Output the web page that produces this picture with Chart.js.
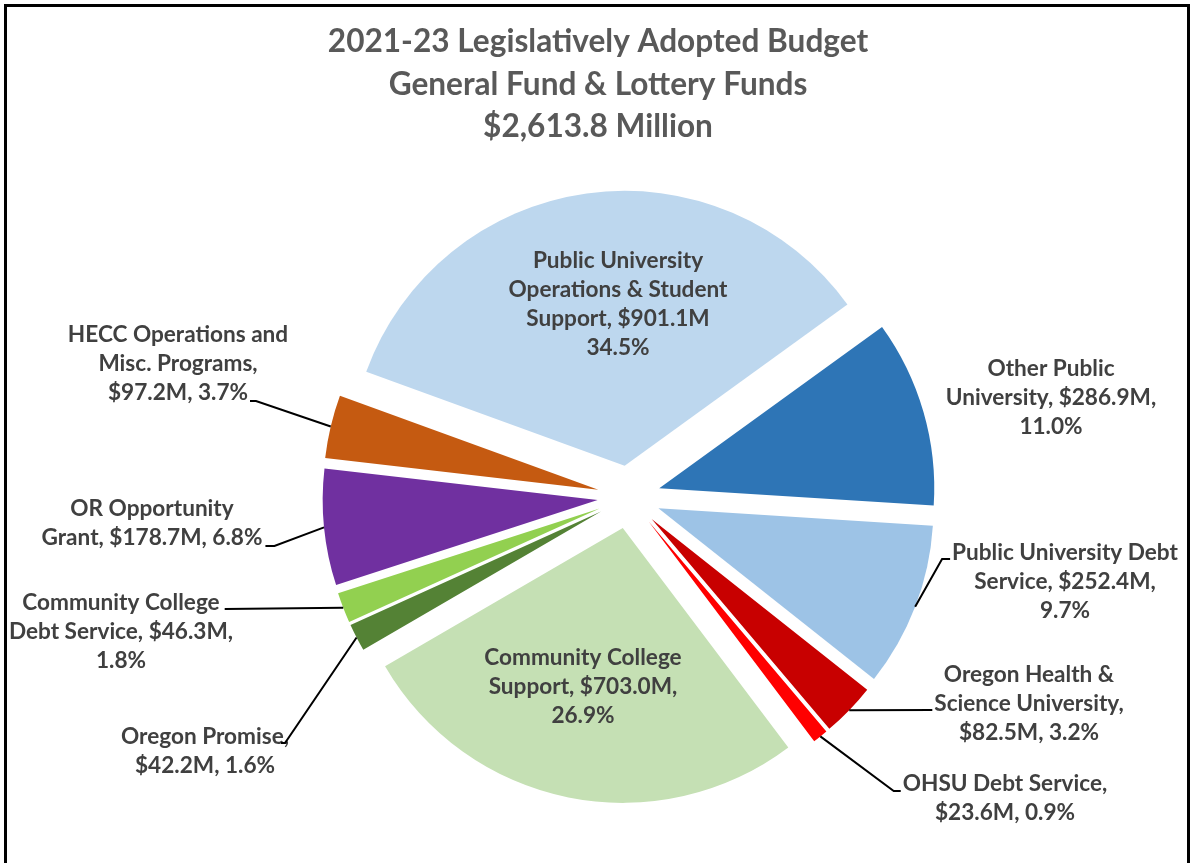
<!DOCTYPE html>
<html>
<head>
<meta charset="utf-8">
<title>2021-23 Legislatively Adopted Budget</title>
<script src="https://cdn.jsdelivr.net/npm/chart.js@4.4.0/dist/chart.umd.min.js"></script>
<style>
  html, body { margin: 0; padding: 0; background: #ffffff; overflow: hidden; }
  canvas { display: block; }
</style>
</head>
<body>
<canvas id="budget" width="1193" height="863"></canvas>
<script>
// ---- data ----
const titleLines = [
  '2021-23 Legislatively Adopted Budget',
  'General Fund & Lottery Funds',
  '$2,613.8 Million'
];

const categories = [
  'Public University Operations & Student Support',
  'Other Public University',
  'Public University Debt Service',
  'Oregon Health & Science University',
  'OHSU Debt Service',
  'Community College Support',
  'Oregon Promise',
  'Community College Debt Service',
  'OR Opportunity Grant',
  'HECC Operations and Misc. Programs'
];

// $ millions
const amounts = [901.1, 286.9, 252.4, 82.5, 23.6, 703.0, 42.2, 46.3, 178.7, 97.2];

// share of total, %
const percents = [34.5, 11.0, 9.7, 3.2, 0.9, 26.9, 1.6, 1.8, 6.8, 3.7];

const sliceColors = [
  '#BDD7EE', '#2E75B6', '#9DC3E6', '#C80000', '#FF0000',
  '#C5E0B4', '#548235', '#92D050', '#7030A0', '#C55A11'
];

// ---- label text, built from the values ----
const money = i => '$' + amounts[i].toFixed(1) + 'M';
const pct = i => percents[i].toFixed(1) + '%';

const labelLines = [
  ['Public University', 'Operations & Student', 'Support, ' + money(0), pct(0)],
  ['Other Public', 'University, ' + money(1) + ',', pct(1)],
  ['Public University Debt', 'Service, ' + money(2) + ',', pct(2)],
  ['Oregon Health &', 'Science University,', money(3) + ', ' + pct(3)],
  ['OHSU Debt Service,', money(4) + ', ' + pct(4)],
  ['Community College', 'Support, ' + money(5) + ',', pct(5)],
  ['Oregon Promise,', money(6) + ', ' + pct(6)],
  ['Community College', 'Debt Service, ' + money(7) + ',', pct(7)],
  ['OR Opportunity', 'Grant, ' + money(8) + ', ' + pct(8)],
  ['HECC Operations and', 'Misc. Programs,', money(9) + ', ' + pct(9)]
];

// ---- label placement (centre of first line) and leader hook-up ----
const labelPlacement = [
  { x: 618,  y: 261 },
  { x: 1051, y: 369 },
  { x: 1065, y: 553, leader: { line: 0, side: 'left',  dx: -2, dy: 6, elbow: 8 } },
  { x: 1029, y: 675, leader: { line: 1, side: 'left',  dx: -2, dy: 6, elbow: 0 } },
  { x: 1005, y: 784, leader: { line: 0, side: 'left',  dx: -2, dy: 7, elbow: 7 } },
  { x: 583,  y: 658 },
  { x: 205,  y: 737, leader: { line: 0, side: 'right', dx: -8, dy: 6, elbow: 4 } },
  { x: 121,  y: 603, leader: { line: 0, side: 'right', dx: 5,  dy: 6, elbow: 0 } },
  { x: 152,  y: 509, leader: { line: 1, side: 'right', dx: 3,  dy: 8, elbow: 9 } },
  { x: 178,  y: 335, leader: { line: 2, side: 'right', dx: 2,  dy: 8, elbow: 6 } }
];

const LABEL_FONT = 'bold 22.6px Lato';
const LABEL_LINE = 29;
const LABEL_COLOR = '#404040';

// Pulls every wedge out along its own bisector, keeping its true radius.
const explodedPie = {
  id: 'explodedPie',
  beforeDatasetDraw(chart, args, opts) {
    const ctx = chart.ctx;
    args.meta.data.forEach(arc => {
      const mid = (arc.startAngle + arc.endAngle) / 2;
      ctx.save();
      ctx.translate(Math.cos(mid) * opts.distance, Math.sin(mid) * opts.distance);
      arc.draw(ctx);
      ctx.restore();
    });
    return false;
  }
};

// Outer frame and the three-line heading.
const frameAndTitle = {
  id: 'frameAndTitle',
  beforeDraw(chart) {
    const ctx = chart.ctx;
    ctx.save();
    ctx.fillStyle = '#ffffff';
    ctx.fillRect(0, 0, chart.width, chart.height);
    ctx.strokeStyle = '#000000';
    ctx.lineWidth = 3;
    ctx.strokeRect(5.5, 5.5, 1183, 900);
    ctx.restore();
  },
  afterDraw(chart) {
    const ctx = chart.ctx;
    ctx.save();
    ctx.fillStyle = '#595959';
    ctx.font = 'bold 31.6px Lato';
    ctx.textAlign = 'center';
    ctx.textBaseline = 'middle';
    titleLines.forEach((t, i) => ctx.fillText(t, 598, 42 + i * 42.5));
    ctx.restore();
  }
};

// Data labels with leader lines running to the outer rim of each wedge.
const sliceLabels = {
  id: 'sliceLabels',
  afterDatasetsDraw(chart) {
    const ctx = chart.ctx;
    const arcs = chart.getDatasetMeta(0).data;
    const shift = chart.options.plugins.explodedPie.distance;
    ctx.save();
    ctx.font = LABEL_FONT;
    ctx.textAlign = 'center';
    ctx.textBaseline = 'middle';

    labelLines.forEach((lines, i) => {
      const place = labelPlacement[i];
      ctx.fillStyle = LABEL_COLOR;
      lines.forEach((t, k) => ctx.fillText(t, place.x, place.y + k * LABEL_LINE));

      if (!place.leader) return;
      const ld = place.leader;
      const w = ctx.measureText(lines[ld.line]).width;
      const sign = ld.side === 'left' ? -1 : 1;
      const sx = place.x + sign * w / 2 + ld.dx;
      const sy = place.y + ld.line * LABEL_LINE + ld.dy;

      const arc = arcs[i];
      const mid = (arc.startAngle + arc.endAngle) / 2;
      const ex = arc.x + Math.cos(mid) * (shift + arc.outerRadius);
      const ey = arc.y + Math.sin(mid) * (shift + arc.outerRadius);

      ctx.strokeStyle = '#000000';
      ctx.lineWidth = 2;
      ctx.beginPath();
      ctx.moveTo(sx, sy);
      if (ld.elbow) ctx.lineTo(sx + sign * ld.elbow, sy);
      ctx.lineTo(ex, ey);
      ctx.stroke();
    });
    ctx.restore();
  }
};

new Chart(document.getElementById('budget'), {
  type: 'pie',
  data: {
    labels: categories,
    datasets: [{
      data: amounts,
      backgroundColor: sliceColors,
      borderWidth: 0,
      offset: 0,
      hoverOffset: 0,
      rotation: -70,
      radius: 275
    }]
  },
  options: {
    responsive: false,
    animation: false,
    events: [],
    layout: { padding: { left: 65, right: 0, top: 131, bottom: 0 } },
    plugins: {
      legend: { display: false },
      title: { display: false },
      tooltip: { enabled: false },
      explodedPie: { distance: 31.5 }
    }
  },
  plugins: [frameAndTitle, explodedPie, sliceLabels]
});
</script>
</body>
</html>
